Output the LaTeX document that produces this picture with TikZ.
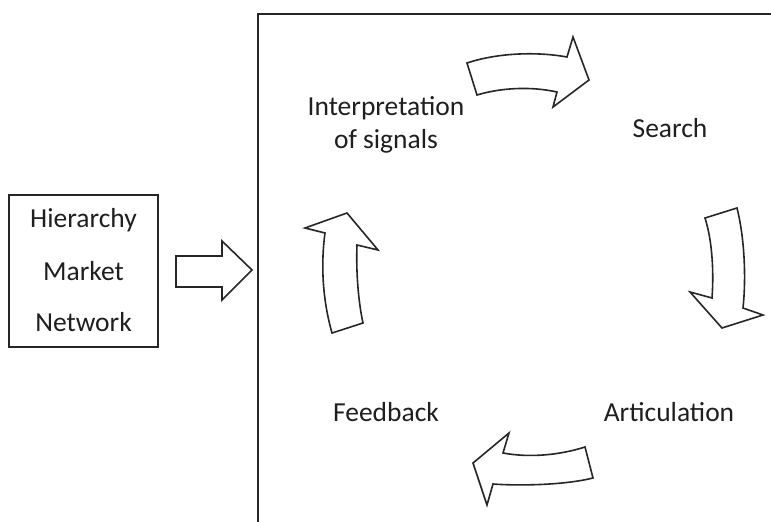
\documentclass[tikz,border=0pt]{standalone}
\usepackage{fontspec}
\setmainfont{Carlito}
\begin{document}
\begin{tikzpicture}[x=1pt,y=-1pt,
  lbl/.style={font=\fontsize{27.5}{33}\selectfont, text=black!88, inner sep=0pt, align=center},
  blockarrow/.style={draw=black!85, line width=1.6pt, line join=miter, fill=white},
  frame/.style={draw=black!85, line width=1.8pt}]
\clip (0,0) rectangle (771,522);
\fill[white] (0,0) rectangle (771,522);
% big frame
\draw[frame] (258,14) rectangle (790,540);
% left box
\node[draw=black!85, line width=1.5pt, minimum width=149pt, minimum height=152pt, inner sep=0pt] (gov) at (83.5,271) {};
\node[lbl] (hier) at (83.5,220) {Hierarchy};
\node[lbl] (mark) at (83.5,271) {Market};
\node[lbl] (netw) at (83.5,322) {Network};
% block arrow into frame
\draw[blockarrow] (176,256) -- (222,256) -- (222,241) -- (252,270) -- (222,300) -- (222,287) -- (176,287) -- cycle;
% labels
\node[lbl] (interp) at (386,125) {Interpretation\\of signals};
\node[lbl] (search) at (670,128) {Search};
\node[lbl] (artic) at (669,412) {Articulation};
\node[lbl] (feed) at (386,412) {Feedback};
% top arrow
\draw[blockarrow] (467,63) .. controls (500,52) and (540,52) .. (567,57) -- (573,37) -- (589,80) -- (553,107) -- (557,92) .. controls (530,86) and (500,88) .. (477,95) -- cycle;
% right arrow
\draw[blockarrow] (705,218) -- (737,208) .. controls (745,240) and (746,280) .. (743,308) -- (763,315) -- (722,328) -- (690,292) -- (712,298) .. controls (714,270) and (712,240) .. (705,218) -- cycle;
% bottom arrow
\draw[blockarrow] (585,447) -- (593,478) .. controls (565,485) and (520,486) .. (493,484) -- (487,505) -- (473,463) -- (509,433) -- (503,453) .. controls (530,458) and (560,455) .. (585,447) -- cycle;
% left arrow
\draw[blockarrow] (332,333) -- (363,323) .. controls (358,300) and (356,270) .. (357,245) -- (378,250) -- (347,213) -- (305,228) -- (325,233) .. controls (320,270) and (324,305) .. (332,333) -- cycle;
\end{tikzpicture}
\end{document}
